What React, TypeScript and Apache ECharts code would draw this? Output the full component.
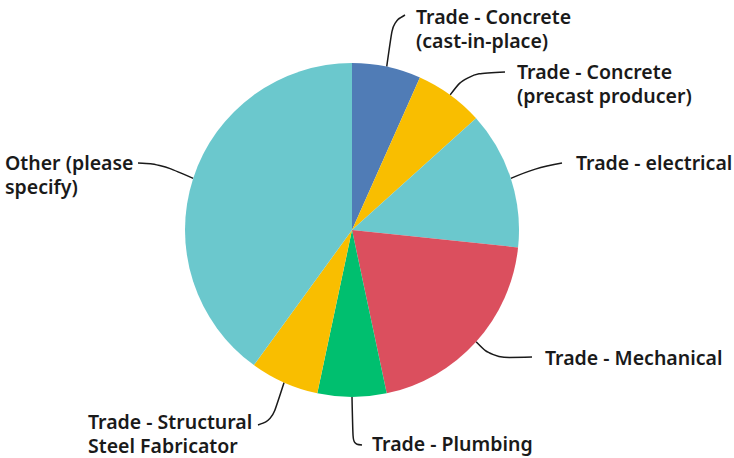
import React, { useEffect, useRef } from "react";
import * as echarts from "echarts";

const categories = [
  "Trade - Concrete\n(cast-in-place)",
  "Trade - Concrete\n(precast producer)",
  "Trade - electrical",
  "Trade - Mechanical",
  "Trade - Plumbing",
  "Trade - Structural\nSteel Fabricator",
  "Other (please\nspecify)",
];
const values = [1, 1, 2, 3, 1, 1, 6];
const colors = ["#507cb6", "#f9be00", "#6bc8cd", "#db4f5e", "#00bf6f", "#f9be00", "#6bc8cd"];

// label layout (positions only): text left edge, block centre, elbow point, line end point
const labelPlacement = [
  { x: 416, y: 28.5, elbow: [393, 22], end: [405, 15] },
  { x: 517, y: 83.5, elbow: [466, 74], end: [505, 72] },
  { x: 576, y: 162, elbow: [535, 168], end: [562, 163] },
  { x: 545, y: 357, elbow: [492, 358], end: [532, 357] },
  { x: 372, y: 443, elbow: [353, 444], end: [362, 445] },
  { x: 88, y: 433.5, elbow: [272, 420], end: [258, 425] },
  { x: 5, y: 174, elbow: [160, 164], end: [138, 163] },
];

export default function App() {
  const ref = useRef<HTMLDivElement>(null);
  useEffect(() => {
    document.body.style.margin = "0";
    const chart = echarts.init(ref.current!, null, { renderer: "svg" });
    chart.setOption({
      animation: false,
      series: [
        {
          type: "pie",
          center: [352, 230],
          radius: 167,
          startAngle: 90,
          clockwise: true,
          avoidLabelOverlap: false,
          data: categories.map((name, i) => ({
            name,
            value: values[i],
            itemStyle: { color: colors[i] },
          })),
          label: {
            show: true,
            position: "outside",
            color: "#1a1a1a",
            fontFamily: "Noto Sans",
            fontWeight: 600,
            fontSize: 19.5,
            lineHeight: 24,
          },
          labelLine: {
            show: true,
            length: 18,
            length2: 20,
            smooth: 0.4,
            lineStyle: { color: "#1a1a1a", width: 1.5 },
          },
          labelLayout: (params: any) => {
            const p = labelPlacement[params.dataIndex];
            const start = params.labelLinePoints ? params.labelLinePoints[0] : p.elbow;
            return {
              x: p.x,
              y: p.y,
              align: "left",
              verticalAlign: "middle",
              labelLinePoints: [start, p.elbow, p.end],
            };
          },
        },
      ],
    });
    return () => chart.dispose();
  }, []);
  return <div ref={ref} style={{ width: 734, height: 458 }} />;
}
